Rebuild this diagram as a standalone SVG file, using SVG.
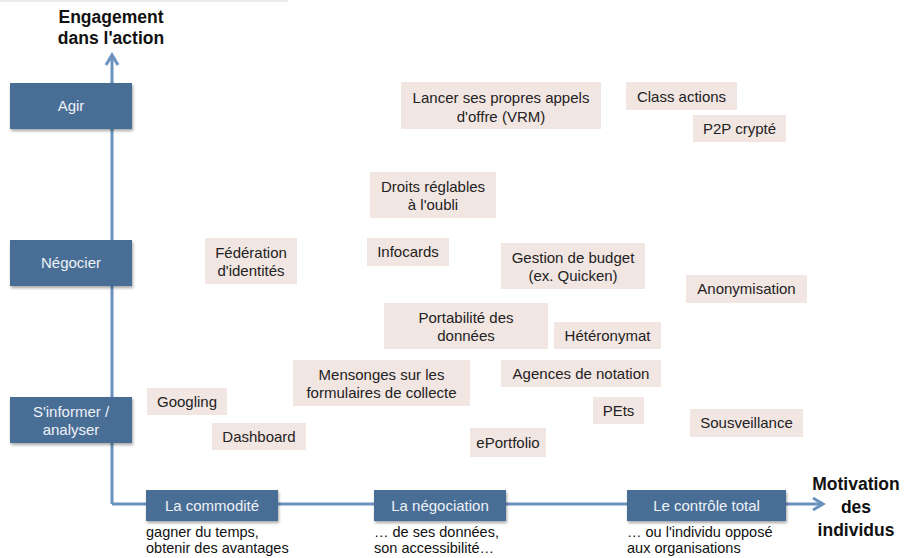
<svg xmlns="http://www.w3.org/2000/svg" width="910" height="558" viewBox="0 0 910 558">
  <style>
    text { font-family: "Liberation Sans", Arial, sans-serif; }
    .stage rect { fill: #4a6e96; filter: url(#shadow); }
    .stage text { fill: #eef2f7; font-size: 15px; text-anchor: middle; }
    .item rect { fill: #f2e6e3; }
    .item text { fill: #222; font-size: 15px; text-anchor: middle; }
    .axis { fill: none; stroke: #6a92be; stroke-width: 3; }
    .title { font-size: 17.5px; font-weight: bold; fill: #111; text-anchor: middle; }
    .note { font-size: 14.5px; fill: #111; }
  </style>
  <defs>
    <filter id="shadow" x="-10%" y="-20%" width="120%" height="150%">
      <feDropShadow dx="1" dy="2" stdDeviation="1.5" flood-color="#000" flood-opacity="0.35"/>
    </filter>
  </defs>

  <rect width="910" height="558" fill="#fff"/>
  <rect x="0" y="0" width="288" height="2" fill="#ececec"/>

  <!-- axes -->
  <g id="connectors">
    <path class="axis" d="M112 504 V56 M112 504 H822"/>
    <path class="axis" d="M106 65 L112 55 L118 65"/>
    <path class="axis" d="M813 498 L823 504 L813 510"/>
  </g>

  <!-- axis titles -->
  <text class="title" x="111" y="23">Engagement</text>
  <text class="title" x="111" y="44">dans l'action</text>
  <text class="title" x="856" y="490">Motivation</text>
  <text class="title" x="856" y="513">des</text>
  <text class="title" x="856" y="536">individus</text>

  <!-- vertical stages -->
  <g id="agir" class="stage"><rect x="10" y="83" width="122" height="46"/><text x="71" y="111">Agir</text></g>
  <g id="negocier" class="stage"><rect x="10" y="240" width="122" height="46"/><text x="71" y="268">Négocier</text></g>
  <g id="sinformer" class="stage"><rect x="10" y="397" width="122" height="46"/><text x="71" y="417">S'informer /</text><text x="71" y="435">analyser</text></g>

  <!-- horizontal stages -->
  <g id="commodite" class="stage"><rect x="146" y="490" width="132" height="31"/><text x="212" y="511">La commodité</text></g>
  <g id="negociation" class="stage"><rect x="374" y="490" width="132" height="31"/><text x="440" y="511">La négociation</text></g>
  <g id="controle" class="stage"><rect x="627" y="490" width="159" height="31"/><text x="706.5" y="511">Le contrôle total</text></g>

  <text class="note" x="146" y="537">gagner du temps,</text>
  <text class="note" x="146" y="553">obtenir des avantages</text>
  <text class="note" x="374" y="537">… de ses données,</text>
  <text class="note" x="374" y="553">son accessibilité…</text>
  <text class="note" x="627" y="537">… ou l'individu opposé</text>
  <text class="note" x="627" y="553">aux organisations</text>

  <!-- practices -->
  <g id="vrm" class="item"><rect x="401" y="82" width="200" height="47"/><text x="501" y="103">Lancer ses propres appels</text><text x="501" y="122">d'offre (VRM)</text></g>
  <g id="class-actions" class="item"><rect x="626" y="82" width="111" height="28"/><text x="681.5" y="102">Class actions</text></g>
  <g id="p2p" class="item"><rect x="693" y="115" width="93" height="27"/><text x="739.5" y="134">P2P crypté</text></g>
  <g id="droits" class="item"><rect x="370" y="172" width="126" height="46"/><text x="433" y="192">Droits réglables</text><text x="433" y="210">à l'oubli</text></g>
  <g id="infocards" class="item"><rect x="367" y="238" width="82" height="28"/><text x="408" y="257">Infocards</text></g>
  <g id="budget" class="item"><rect x="501" y="243" width="144" height="46"/><text x="573" y="263">Gestion de budget</text><text x="573" y="281">(ex. Quicken)</text></g>
  <g id="federation" class="item"><rect x="205" y="238" width="92" height="46"/><text x="251" y="258">Fédération</text><text x="251" y="276">d'identités</text></g>
  <g id="anonymisation" class="item"><rect x="686" y="275" width="121" height="28"/><text x="746.5" y="294">Anonymisation</text></g>
  <g id="portabilite" class="item"><rect x="384" y="303" width="164" height="46"/><text x="466" y="323">Portabilité des</text><text x="466" y="341">données</text></g>
  <g id="heteronymat" class="item"><rect x="554" y="322" width="107" height="27"/><text x="607.5" y="341">Hétéronymat</text></g>
  <g id="mensonges" class="item"><rect x="293" y="360" width="177" height="46"/><text x="381.5" y="380">Mensonges sur les</text><text x="381.5" y="398">formulaires de collecte</text></g>
  <g id="agences" class="item"><rect x="501" y="360" width="160" height="27"/><text x="581" y="379">Agences de notation</text></g>
  <g id="googling" class="item"><rect x="147" y="388" width="80" height="27"/><text x="187" y="407">Googling</text></g>
  <g id="pets" class="item"><rect x="593" y="397" width="51" height="27"/><text x="618.5" y="416">PEts</text></g>
  <g id="sousveillance" class="item"><rect x="690" y="409" width="113" height="28"/><text x="746.5" y="428">Sousveillance</text></g>
  <g id="dashboard" class="item"><rect x="212" y="423" width="94" height="27"/><text x="259" y="442">Dashboard</text></g>
  <g id="eportfolio" class="item"><rect x="470" y="428" width="76" height="29"/><text x="508" y="448">ePortfolio</text></g>
</svg>
